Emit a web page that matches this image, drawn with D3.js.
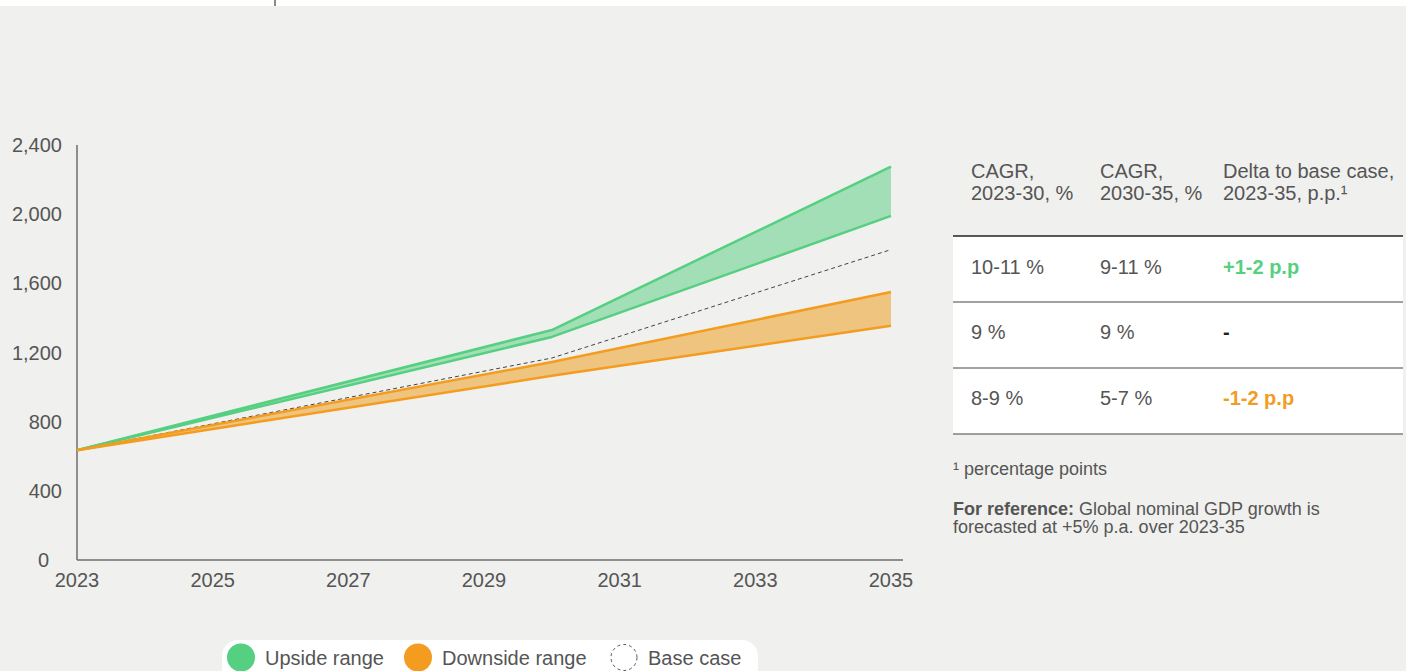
<!DOCTYPE html>
<html>
<head>
<meta charset="utf-8">
<script src="https://cdn.jsdelivr.net/npm/d3@7"></script>
<style>
  html, body { margin: 0; padding: 0; background: #f0f0ee; }
  svg { display: block; font-family: "Liberation Sans", Arial, sans-serif; }
</style>
</head>
<body>
<svg id="chart" width="1406" height="671"></svg>
<script>
// Market size scenarios, anchor years
const years = [2023, 2030, 2035];
const upsideHigh = [635, 1330, 2275];
const upsideLow = [635, 1290, 1990];
const baseCase = [635, 1168, 1795];
const downsideHigh = [635, 1145, 1550];
const downsideLow = [635, 1065, 1355];

const xTicks = [2023, 2025, 2027, 2029, 2031, 2033, 2035];
const yTicks = [0, 400, 800, 1200, 1600, 2000, 2400];

// CAGR summary table
const tableHeaders = [["CAGR,", "2023-30, %"], ["CAGR,", "2030-35, %"], ["Delta to base case,", "2023-35, p.p.¹"]];
const cagr2330 = ["10-11 %", "9 %", "8-9 %"];
const cagr3035 = ["9-11 %", "9 %", "5-7 %"];
const deltaBase = ["+1-2 p.p", "-", "-1-2 p.p"];

const legendItems = ["Upside range", "Downside range", "Base case"];

const C = {
  bg: "#f0f0ee", text: "#555555", axis: "#6e6e6e",
  green: "#55cf80", greenFill: "#a3dfb6",
  orange: "#f39c1f", orangeFill: "#efc47f",
  base: "#444444"
};

const svg = d3.select("#chart");

// top strip
svg.append("rect").attr("x", 0).attr("y", 0).attr("width", 1406).attr("height", 6).attr("fill", "#ffffff");
svg.append("rect").attr("x", 274).attr("y", 0).attr("width", 2).attr("height", 6).attr("fill", "#8a8a8a");

const x = d3.scaleLinear().domain([2023, 2035]).range([77, 891]);
const y = d3.scaleLinear().domain([0, 2400]).range([560, 145]);

// axes
const g = svg.append("g");
g.append("line").attr("x1", 77).attr("x2", 77).attr("y1", y(2400)).attr("y2", y(0))
  .attr("stroke", C.axis).attr("stroke-width", 1.5);
g.append("line").attr("x1", 77).attr("x2", 903).attr("y1", y(0)).attr("y2", y(0))
  .attr("stroke", C.axis).attr("stroke-width", 1.5);

g.selectAll(".ytick").data(yTicks).enter().append("text")
  .attr("x", d => d === 0 ? 49 : 62).attr("y", d => y(d)).attr("dy", "0.35em")
  .attr("text-anchor", "end").attr("font-size", 20).attr("fill", C.text)
  .text(d => d3.format(",")(d));

g.selectAll(".xtick").data(xTicks).enter().append("text")
  .attr("x", d => x(d)).attr("y", 580).attr("dy", "0.35em")
  .attr("text-anchor", "middle").attr("font-size", 20).attr("fill", C.text)
  .text(d => d);

const pts = (arr) => years.map((yr, i) => [yr, arr[i]]);
const band = (hi, lo) => years.map((yr, i) => ({ yr, hi: hi[i], lo: lo[i] }));
const area = d3.area().x(d => x(d.yr)).y0(d => y(d.lo)).y1(d => y(d.hi));
const line = d3.line().x(d => x(d[0])).y(d => y(d[1]));

// downside band
g.append("path").datum(band(downsideHigh, downsideLow)).attr("d", area).attr("fill", C.orangeFill);
// upside band
g.append("path").datum(band(upsideHigh, upsideLow)).attr("d", area).attr("fill", C.greenFill);

[[upsideHigh, C.green], [upsideLow, C.green]].forEach(([arr, col]) => {
  g.append("path").datum(pts(arr)).attr("d", line).attr("fill", "none")
    .attr("stroke", col).attr("stroke-width", 2.5).attr("stroke-linejoin", "round");
});
// base case
g.append("path").datum(pts(baseCase)).attr("d", line).attr("fill", "none")
  .attr("stroke", C.base).attr("stroke-width", 1).attr("stroke-dasharray", "4,3");
[[downsideHigh, C.orange], [downsideLow, C.orange]].forEach(([arr, col]) => {
  g.append("path").datum(pts(arr)).attr("d", line).attr("fill", "none")
    .attr("stroke", col).attr("stroke-width", 2.5).attr("stroke-linejoin", "round");
});

// table
const colX = [971, 1100, 1223];
const t = svg.append("g");
t.append("rect").attr("x", 953).attr("y", 236).attr("width", 450).attr("height", 198).attr("fill", "#ffffff");
tableHeaders.forEach((h, i) => {
  h.forEach((ln, j) => {
    t.append("text").attr("x", colX[i]).attr("y", 171 + j * 22).attr("dy", "0.35em")
      .attr("font-size", 20).attr("fill", C.text).text(ln);
  });
});
[236, 302, 368, 434].forEach((ly, i) => {
  t.append("line").attr("x1", 953).attr("x2", 1403).attr("y1", ly).attr("y2", ly)
    .attr("stroke", i === 0 ? "#222222" : "#444444").attr("stroke-width", i === 0 ? 1.5 : 1);
});
const rowY = [267, 332, 398];
const deltaColors = [C.green, "#222222", C.orange];
rowY.forEach((ry, r) => {
  t.append("text").attr("x", colX[0]).attr("y", ry).attr("dy", "0.35em").attr("font-size", 20)
    .attr("fill", C.text).text(cagr2330[r]);
  t.append("text").attr("x", colX[1]).attr("y", ry).attr("dy", "0.35em").attr("font-size", 20)
    .attr("fill", C.text).text(cagr3035[r]);
  t.append("text").attr("x", colX[2]).attr("y", ry).attr("dy", "0.35em").attr("font-size", 20)
    .attr("font-weight", "bold").attr("fill", deltaColors[r]).text(deltaBase[r]);
});

// notes
t.append("text").attr("x", 953).attr("y", 469).attr("dy", "0.35em").attr("font-size", 18)
  .attr("fill", C.text).text("¹ percentage points");
const ref = t.append("text").attr("x", 953).attr("y", 509).attr("dy", "0.35em").attr("font-size", 18).attr("fill", C.text);
ref.append("tspan").attr("font-weight", "bold").text("For reference:");
ref.append("tspan").text(" Global nominal GDP growth is");
t.append("text").attr("x", 953).attr("y", 527).attr("dy", "0.35em").attr("font-size", 18)
  .attr("fill", C.text).text("forecasted at +5% p.a. over 2023-35");

// legend
const lg = svg.append("g");
lg.append("rect").attr("x", 222).attr("y", 640).attr("width", 536).attr("height", 44).attr("rx", 16)
  .attr("fill", "#ffffff");
const legX = [241, 418, 624];
const legStyles = [
  { fill: C.green, stroke: "none", dash: null },
  { fill: C.orange, stroke: "none", dash: null },
  { fill: "#ffffff", stroke: "#555555", dash: "3,3" }
];
legendItems.forEach((name, i) => {
  const s = legStyles[i];
  lg.append("circle").attr("cx", legX[i]).attr("cy", 657.5).attr("r", s.dash ? 13 : 14)
    .attr("fill", s.fill).attr("stroke", s.stroke).attr("stroke-width", 1)
    .attr("stroke-dasharray", s.dash);
  lg.append("text").attr("x", legX[i] + 24).attr("y", 657.5).attr("dy", "0.35em")
    .attr("font-size", 20).attr("fill", C.text).text(name);
});
</script>
</body>
</html>
